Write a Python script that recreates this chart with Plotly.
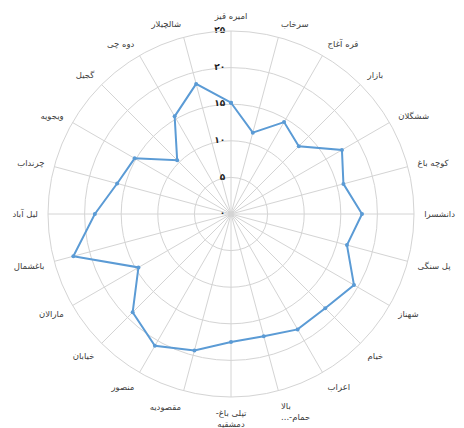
import plotly.graph_objects as go

categories = [
    "امیره قیز", "سرخاب", "قره آغاج", "بازار", "ششگلان", "کوچه باغ",
    "دانشسرا", "پل سنگی", "شهناز", "خیام", "اعراب", "بالا<br>...-حمام",
    "-تپلی باغ<br>دمشقیه", "مقصودیه", "منصور", "خیابان", "مارالان", "باغشمال",
    "لیل آباد", "چرنداب", "ویجویه", "گجیل", "دوه چی", "شالچیلار",
]
values = [
    15.2, 11.5, 14.5, 13.1, 17.5, 15.9,
    17.9, 16.4, 19.4, 18.2, 18.2, 17.3,
    17.5, 19.3, 20.8, 19.0, 14.6, 22.3,
    18.6, 16.1, 15.2, 10.4, 15.4, 18.4,
]
radial_tickvals = [0, 5, 10, 15, 20, 25]
radial_ticktext = ["۰", "۵", "۱۰", "۱۵", "۲۰", "۲۵"]

fig = go.Figure()
fig.add_trace(go.Scatterpolar(
    r=values + values[:1],
    theta=categories + categories[:1],
    mode="lines+markers",
    line=dict(color="#5b9bd5", width=2),
    marker=dict(color="#5b9bd5", size=4),
    showlegend=False,
    hoverinfo="skip",
))
# radial tick labels, placed left of the top spoke
fig.add_trace(go.Scatterpolar(
    r=radial_tickvals,
    theta=[categories[0]] * len(radial_tickvals),
    mode="text",
    text=["<b>%s</b>\u00a0\u00a0" % t for t in radial_ticktext],
    textposition="middle left",
    textfont=dict(family="DejaVu Sans", size=9, color="#222222"),
    showlegend=False,
    hoverinfo="skip",
))

W, H = 464, 428
cx, cy, R = 223, 206, 183
fig.update_layout(
    width=W, height=H,
    margin=dict(l=0, r=0, t=0, b=0),
    paper_bgcolor="white",
    plot_bgcolor="white",
    font=dict(family="DejaVu Sans", size=9, color="#404040"),
    polar=dict(
        domain=dict(x=[(cx - R) / W, (cx + R) / W], y=[(H - cy - R) / H, (H - cy + R) / H]),
        bgcolor="white",
        angularaxis=dict(
            rotation=90, direction="clockwise",
            showline=True, linecolor="#d4d4d4", linewidth=1,
            gridcolor="#d4d4d4", gridwidth=1,
            ticks="outside", ticklen=8, tickcolor="rgba(0,0,0,0)",
            tickfont=dict(size=8.5, color="#404040"),
        ),
        radialaxis=dict(
            range=[0, 25], tickvals=radial_tickvals,
            showticklabels=False,
            showline=False, ticks="",
            gridcolor="#d4d4d4", gridwidth=1,
        ),
    ),
)

fig.write_html("out.html")
